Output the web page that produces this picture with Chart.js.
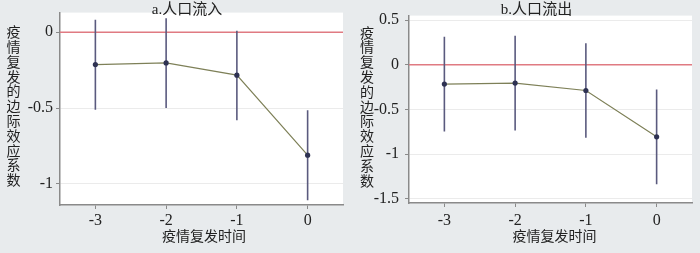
<!DOCTYPE html>
<html><head><meta charset="utf-8">
<script src="https://cdn.jsdelivr.net/npm/chart.js@4/dist/chart.umd.min.js"></script>
<style>
html,body{margin:0;padding:0;background:#e8ebed;}
#wrap{position:relative;width:700px;height:253px;}
.c{position:absolute;top:0;width:350px;height:253px;}
</style></head><body>
<div id="wrap">
<div class="c" style="left:0"><canvas id="a" width="350" height="253"></canvas></div>
<div class="c" style="left:350px"><canvas id="b" width="350" height="253"></canvas></div>
</div>
<script>
const periods = [-3, -2, -1, 0];
const inflowCoef  = [-0.213, -0.202, -0.283, -0.811];
const inflowLower = [-0.511, -0.500, -0.580, -1.109];
const inflowUpper = [0.083, 0.093, 0.011, -0.515];
const outflowCoef  = [-0.216, -0.205, -0.288, -0.807];
const outflowLower = [-0.746, -0.735, -0.818, -1.337];
const outflowUpper = [0.313, 0.324, 0.241, -0.278];
const inflowYTicks = [0, -0.5, -1];
const outflowYTicks = [0.5, 0, -0.5, -1, -1.5];
const xTicks = [-3, -2, -1, 0];
const panelTitles = ['a.人口流入', 'b.人口流出'];
const yTitle = '疫情复发的边际效应系数';
const xTitle = '疫情复发时间';

const SERIF = '"Liberation Serif","Noto Sans CJK SC",serif';

const bgPlugin = {
  id: 'plotBg',
  beforeDraw(chart) {
    const a = chart.chartArea, ctx = chart.ctx;
    ctx.save(); ctx.fillStyle = '#ffffff';
    ctx.fillRect(a.left, a.top, a.right - a.left, a.bottom - a.top);
    ctx.restore();
  }
};
const textPlugin = {
  id: 'texts',
  afterDraw(chart, args, o) {
    const ctx = chart.ctx; ctx.save();
    ctx.fillStyle = '#222'; ctx.textAlign = 'center'; ctx.textBaseline = 'middle';
    ctx.font = '15px ' + SERIF;
    ctx.fillText(o.title, o.titleX, o.titleY);
    ctx.font = '14px ' + SERIF;
    ctx.fillText(xTitle, o.xTitleX, o.xTitleY);
    const chars = [...yTitle], n = chars.length, step = 14.8;
    chars.forEach((c, i) => ctx.fillText(c, o.yTitleX, o.yTitleY + (i - (n - 1) / 2) * step));
    ctx.restore();
  }
};

function makeChart(id, coef, lower, upper, yTicks, yMin, yMax, lay, txt) {
  const datasets = [];
  datasets.push({
    data: periods.map((p, i) => ({x: p, y: coef[i]})),
    borderColor: '#7e8058', borderWidth: 1.2,
    pointRadius: 2.6, pointBackgroundColor: '#2e3252', pointBorderWidth: 0,
    order: 0
  });
  periods.forEach((p, i) => datasets.push({
    data: [{x: p, y: lower[i]}, {x: p, y: upper[i]}],
    borderColor: '#5a5a7e', borderWidth: 1.6, pointRadius: 0, order: 1
  }));
  datasets.push({
    data: [{x: -3.5, y: 0}, {x: 0.5, y: 0}],
    borderColor: '#e07a82', borderWidth: 1.5, pointRadius: 0, order: 2
  });
  return new Chart(document.getElementById(id), {
    type: 'line',
    data: {datasets},
    options: {
      responsive: false, animation: false,
      layout: {padding: {left: 0, right: lay.right, top: lay.top, bottom: 0}},
      plugins: {legend: {display: false}, tooltip: {enabled: false}, texts: txt},
      scales: {
        x: {
          type: 'linear', min: -3.5, max: 0.5,
          afterBuildTicks: s => { s.ticks = xTicks.map(v => ({value: v})); },
          afterFit: s => { s.height = lay.xh; },
          ticks: {callback: v => String(v), font: {family: SERIF, size: 16}, color: '#222',
                  padding: lay.xpad, maxRotation: 0, autoSkip: false},
          grid: {drawOnChartArea: false, drawTicks: true, tickLength: 4, tickColor: '#8a8a8a'},
          border: {display: true, color: '#8a8a8a', width: 1.5}
        },
        y: {
          type: 'linear', min: yMin, max: yMax,
          afterBuildTicks: s => { s.ticks = yTicks.map(v => ({value: v})); },
          afterFit: s => { s.width = lay.yw; },
          ticks: {callback: v => String(v), font: {family: SERIF, size: 16}, color: '#222',
                  padding: lay.ypad, autoSkip: false},
          grid: {color: '#ebebeb', lineWidth: 1, drawTicks: true, tickLength: 4, tickColor: '#8a8a8a'},
          border: {display: true, color: '#8a8a8a', width: 1.5}
        }
      }
    },
    plugins: [bgPlugin, textPlugin]
  });
}

makeChart('a', inflowCoef, inflowLower, inflowUpper, inflowYTicks, -1.14, 0.13,
  {right: 7, top: 10, xh: 48, yw: 60, xpad: 2, ypad: 3},
  {title: panelTitles[0], titleX: 187, titleY: 10, xTitleX: 204, xTitleY: 237, yTitleX: 13.5, yTitleY: 107.5});
makeChart('b', outflowCoef, outflowLower, outflowUpper, outflowYTicks, -1.547, 0.55,
  {right: 8, top: 9, xh: 50, yw: 59, xpad: 4, ypad: 6},
  {title: panelTitles[1], titleX: 186.5, titleY: 10, xTitleX: 204.5, xTitleY: 237, yTitleX: 17, yTitleY: 108});
</script>
</body></html>
